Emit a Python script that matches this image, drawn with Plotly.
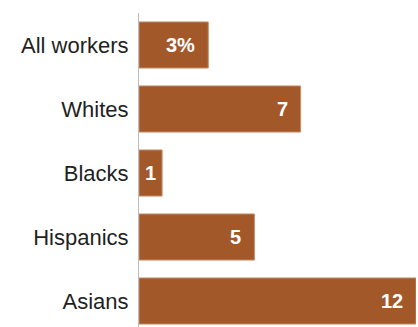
import plotly.graph_objects as go

categories = ["All workers", "Whites", "Blacks", "Hispanics", "Asians"]
values = [3, 7, 1, 5, 12]
value_labels = ["3%", "7", "1", "5", "12"]

bar_color = "#A3582A"

fig = go.Figure()
fig.add_trace(go.Bar(
    y=categories, x=values, orientation="h",
    marker=dict(color=bar_color, line=dict(color="#C98B62", width=1)),
    width=0.72, hoverinfo="skip",
))

for c, v, t in zip(categories, values, value_labels):
    if v < 2:
        fig.add_annotation(x=v / 2, y=c, text=t, showarrow=False, xanchor="center",
                           font=dict(family="Liberation Sans", size=20, color="white", weight="bold"))
    else:
        fig.add_annotation(x=v, y=c, text=t, showarrow=False, xanchor="right", xshift=-11,
                           font=dict(family="Liberation Sans", size=20, color="white", weight="bold"))

fig.update_layout(
    width=418, height=327,
    margin=dict(l=139, r=2, t=13, b=0),
    plot_bgcolor="white", paper_bgcolor="white",
    showlegend=False,
    xaxis=dict(range=[0, 12], visible=False, fixedrange=True),
    yaxis=dict(
        categoryorder="array", categoryarray=categories,
        range=[4.406, -0.5], autorange=False,
        showline=True, linecolor="#BDBDBD", linewidth=1,
        showgrid=False, ticks="", ticklabelstandoff=5,
        tickfont=dict(family="Liberation Sans", size=22, color="#1f1f1f"),
    ),
)

fig.write_html("out.html")
